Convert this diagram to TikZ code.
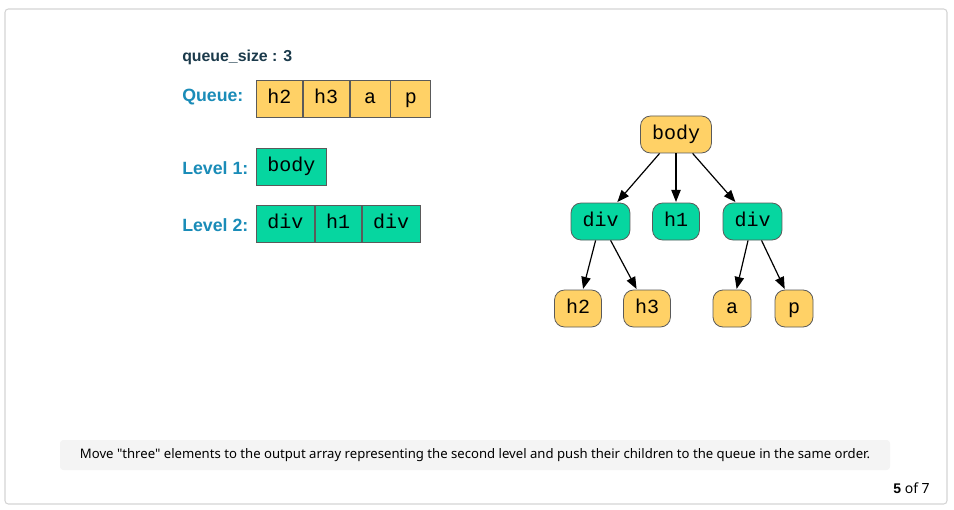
\documentclass[tikz,border=0pt]{standalone}
\usepackage{fontspec}
\setmainfont{Liberation Sans}
\newfontfamily\notosans{Noto Sans}
\newfontfamily\cellfont{Liberation Mono}
\usetikzlibrary{positioning,arrows.meta}
\definecolor{qyellow}{HTML}{FFD166}
\definecolor{lgreen}{HTML}{06D6A0}
\definecolor{lblue}{HTML}{1A8CB8}
\definecolor{darktext}{HTML}{1B3A4B}
\definecolor{cellborder}{HTML}{5A5A5A}
\definecolor{notebg}{HTML}{F4F4F4}
\definecolor{framegray}{HTML}{D4D4D4}
\begin{document}
\begin{tikzpicture}[x=0.75pt,y=-0.75pt]
\tikzstyle{cell} = [draw=cellborder, line width=0.6pt, font=\cellfont\fontsize{15pt}{15pt}\selectfont,
    inner xsep=8.25pt, inner ysep=0pt, minimum width=30pt, minimum height=27.75pt, text height=10.5pt, text depth=3pt]
\tikzstyle{qcell} = [cell, fill=qyellow]
\tikzstyle{gcell} = [cell, fill=lgreen]
\tikzstyle{tnode} = [cell, rounded corners=7.5pt, inner xsep=8.6pt, minimum width=28.5pt]
\tikzstyle{rowlabel} = [anchor=west, inner sep=0pt, text=lblue, font=\bfseries\fontsize{13.3pt}{15pt}\selectfont]
\tikzstyle{edge} = [-{Triangle[length=9pt,width=7pt]}, line width=0.9pt, shorten >=0.5pt]

\useasboundingbox (0,0) rectangle (954,510);
\draw[framegray, line width=0.8pt, rounded corners=2.5pt, fill=white] (5,9) rectangle (947,504);

% arrays on the left
\node[anchor=west, inner sep=0pt, text=darktext, font=\bfseries\fontsize{11.9pt}{14pt}\selectfont] (qsize) at (182,57) {queue\_size : 3};
\node[rowlabel] (qlabel) at (182,97) {Queue:};
\node[qcell, anchor=west] (q1) at (256,98.5) {h2};
\node[qcell, right=0pt of q1] (q2) {h3};
\node[qcell, right=0pt of q2] (q3) {a};
\node[qcell, right=0pt of q3] (q4) {p};

\node[rowlabel] (l1label) at (182,168) {Level 1:};
\node[gcell, anchor=west] (l1a) at (256,166.5) {body};

\node[rowlabel] (l2label) at (182,225) {Level 2:};
\node[gcell, anchor=west] (l2a) at (256,223.5) {div};
\node[gcell, right=0pt of l2a] (l2b) {h1};
\node[gcell, right=0pt of l2b] (l2c) {div};

% tree on the right
\node[tnode, fill=qyellow] (body) at (676,134.5) {body};
\node[tnode, fill=lgreen] (div1) at (600.5,221.5) {div};
\node[tnode, fill=lgreen] (h1) at (676,221.5) {h1};
\node[tnode, fill=lgreen] (div2) at (752.5,221.5) {div};
\node[tnode, fill=qyellow] (h2) at (578,308.5) {h2};
\node[tnode, fill=qyellow] (h3) at (647,308.5) {h3};
\node[tnode, fill=qyellow] (a) at (732,308.5) {a};
\node[tnode, fill=qyellow] (p) at (794,308.5) {p};

\draw[edge] (body) -- (div1);
\draw[edge] (body) -- (h1);
\draw[edge] (body) -- (div2);
\draw[edge] (div1) -- (h2);
\draw[edge] (div1) -- (h3);
\draw[edge] (div2) -- (a);
\draw[edge] (div2) -- (p);

% caption and counter
\fill[notebg, rounded corners=2.5pt] (60,440) rectangle (890,470);
\node[font=\notosans\fontsize{9.85pt}{12pt}\selectfont, inner sep=0pt] (note) at (475,455)
  {Move "three" elements to the output array representing the second level and push their children to the queue in the same order.};
\node[anchor=east, inner sep=0pt, font=\notosans\fontsize{10.5pt}{12pt}\selectfont] (count) at (930,488) {{\rmfamily\bfseries 5} of 7};
\end{tikzpicture}
\end{document}
